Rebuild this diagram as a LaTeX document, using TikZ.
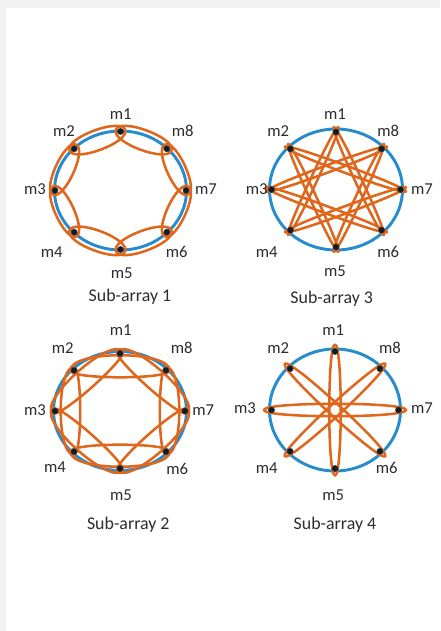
\documentclass[tikz,border=0pt]{standalone}
\usepackage{fontspec}
\setmainfont{Carlito}
\usetikzlibrary{calc}
\definecolor{ringblue}{RGB}{38,140,204}
\definecolor{linkorange}{RGB}{224,102,28}
\definecolor{txt}{RGB}{45,45,45}
\definecolor{bggray}{RGB}{242,242,242}
\tikzset{
  ring/.style={draw=ringblue, line width=2.2pt},
  link/.style={draw=linkorange, line width=1.9pt, line cap=round, line join=round},
  mic/.style={circle, fill=black!90, draw=ringblue!50!black, line width=0.4pt, inner sep=0pt, minimum size=4.6pt},
  lab/.style={text=txt, font=\fontsize{12.5}{14}\selectfont, inner sep=0pt},
  captext/.style={text=txt, font=\fontsize{13.4}{15}\selectfont, inner sep=0pt},
}
% #1 prefix, #2 cx, #3 cy, #4 rx, #5 ry
\newcommand\placemics[5]{%
  \foreach \k in {1,...,8}{%
    \coordinate (#1\k) at ({#2+#4*cos(45*\k+45)},{#3+#5*sin(45*\k+45)});
  }%
}
% #1 A, #2 B, #3 extension, #4 outer looseness, #5 inner looseness
\newcommand\lnk[5]{%
  \draw[link] ($(#1)!-#3!(#2)$) to[bend right=90, looseness=#4] ($(#2)!-#3!(#1)$)
              to[bend right=90, looseness=#5] ($(#1)!-#3!(#2)$);
}
\newcommand\putdots[1]{%
  \foreach \k in {1,...,8}{\node[mic] (#1m\k) at (#1\k) {};}%
}
\begin{document}
\begin{tikzpicture}[x=0.75pt,y=0.75pt]
\fill[bggray] (0,0) rectangle (440,631);
\fill[white] (6,0) rectangle (440,623);
\useasboundingbox (0,0) rectangle (440,631);

% ---------- Sub-array 1 ----------
\coordinate (cA) at (120.5,440.5);
\draw[ring] (cA) ellipse [x radius=66, y radius=59.5];
\placemics{A}{120.5}{440.5}{65.5}{59}
\foreach \k in {1,...,8}{%
  \pgfmathtruncatemacro\j{mod(\k,8)+1}
  \lnk{A\k}{A\j}{0.1}{0.58}{0.58}
}
\putdots{A}
\node[lab] (Al1) at (120.7,517) {m1};
\node[lab] (Al2) at (64,500.3) {m2};
\node[lab] (Al8) at (182.7,500.3) {m8};
\node[lab] (Al3) at (35,442) {m3};
\node[lab] (Al7) at (206,442) {m7};
\node[lab] (Al4) at (51.7,379.3) {m4};
\node[lab] (Al6) at (176.7,379.3) {m6};
\node[lab] (Al5) at (121.7,357.7) {m5};
\node[captext] (Acap) at (130,334.3) {Sub-array 1};

% ---------- Sub-array 3 ----------
\coordinate (cC) at (336,441.5);
\draw[ring] (cC) ellipse [x radius=66.5, y radius=60.5];
\placemics{C}{336}{441.5}{64.5}{57.5}
\foreach \k in {1,...,8}{%
  \pgfmathtruncatemacro\j{mod(\k+2,8)+1}
  \lnk{C\k}{C\j}{0.05}{0.095}{0.095}
}
\putdots{C}
\node[lab] (Cl1) at (335,517) {m1};
\node[lab] (Cl2) at (278.3,500.3) {m2};
\node[lab] (Cl8) at (388.3,500.3) {m8};
\node[lab] (Cl3) at (256.7,441.7) {m3};
\node[lab] (Cl7) at (422,442) {m7};
\node[lab] (Cl4) at (266.7,379.3) {m4};
\node[lab] (Cl6) at (388.3,379.3) {m6};
\node[lab] (Cl5) at (335,359.3) {m5};
\node[captext] (Ccap) at (331.7,332.7) {Sub-array 3};

% ---------- Sub-array 2 ----------
\coordinate (cB) at (120,220);
\draw[ring] (cB) ellipse [x radius=66.5, y radius=59.5];
\placemics{B}{120}{220}{65}{57.5}
\foreach \k in {1,...,8}{%
  \pgfmathtruncatemacro\j{mod(\k+1,8)+1}
  \lnk{B\k}{B\j}{0.04}{0.52}{0.24}
}
\putdots{B}
\node[lab] (Bl1) at (120.7,301) {m1};
\node[lab] (Bl2) at (62.7,282.7) {m2};
\node[lab] (Bl8) at (181.7,282.7) {m8};
\node[lab] (Bl3) at (35,221) {m3};
\node[lab] (Bl7) at (203.3,221) {m7};
\node[lab] (Bl4) at (55,164.3) {m4};
\node[lab] (Bl6) at (177.3,162) {m6};
\node[lab] (Bl5) at (121,136) {m5};
\node[captext] (Bcap) at (128.3,106) {Sub-array 2};

% ---------- Sub-array 4 ----------
\coordinate (cD) at (335,221);
\draw[ring] (cD) ellipse [x radius=65.5, y radius=61];
\placemics{D}{335}{221}{63.5}{58.5}
\foreach \k in {1,...,4}{%
  \pgfmathtruncatemacro\j{\k+4}
  \lnk{D\k}{D\j}{0.06}{0.15}{0.15}
}
\putdots{D}
\node[lab] (Dl1) at (333.3,301) {m1};
\node[lab] (Dl2) at (278.3,282.7) {m2};
\node[lab] (Dl8) at (390,282.7) {m8};
\node[lab] (Dl3) at (245,222.7) {m3};
\node[lab] (Dl7) at (422,223) {m7};
\node[lab] (Dl4) at (266.7,162.7) {m4};
\node[lab] (Dl6) at (386.7,162.7) {m6};
\node[lab] (Dl5) at (333.3,136) {m5};
\node[captext] (Dcap) at (335,106) {Sub-array 4};
\end{tikzpicture}
\end{document}
